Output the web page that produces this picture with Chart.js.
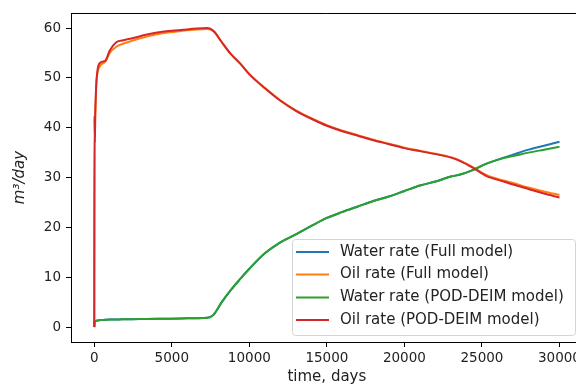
<!DOCTYPE html>
<html>
<head>
<meta charset="utf-8">
<script src="https://cdn.jsdelivr.net/npm/chart.js@4/dist/chart.umd.min.js"></script>
<style>
  html, body { margin: 0; padding: 0; background: #fff; overflow: hidden; }
  #wrap { width: 584px; height: 386px; }
</style>
</head>
<body>
<div id="wrap"><canvas id="rates"></canvas></div>
<script>
// simulation time (days) shared by all four series
const timeDays = [0, 20, 40, 60, 100, 150, 400, 700, 1000, 1400, 1800, 2400,
  3400, 4500, 5600, 6600, 7300, 7700, 8200, 8800, 9400, 10000, 11000, 12000,
  13000, 14000, 15000, 16000, 17000, 18000, 19000, 20000, 21000, 22000, 23000, 23600,
  24400, 25300, 26400, 27000, 28000, 29000, 30000];

const waterFull = [0, 0.8, 1.0, 1.1, 1.2, 1.3, 1.4, 1.45, 1.5, 1.52, 1.55, 1.58,
  1.62, 1.67, 1.72, 1.78, 1.85, 2.5, 4.9, 7.4, 9.6, 11.7, 14.8, 17.0,
  18.6, 20.3, 21.9, 23.1, 24.2, 25.3, 26.2, 27.3, 28.4, 29.2, 30.2, 30.6,
  31.5, 32.8, 34.0, 34.6, 35.6, 36.4, 37.2];

const oilFull = [0, 42, 38, 42, 46, 49.5, 52.5, 53.2, 55, 56.2, 56.8, 57.4,
  58.3, 59.0, 59.4, 59.7, 59.8, 59.3, 57.2, 54.8, 52.9, 50.8, 48.0, 45.5,
  43.5, 41.9, 40.5, 39.4, 38.5, 37.6, 36.8, 36.0, 35.4, 34.8, 34.1, 33.4,
  32.1, 30.5, 29.4, 28.9, 28.0, 27.2, 26.5];

const waterRom = [0, 0.8, 1.0, 1.1, 1.2, 1.3, 1.4, 1.45, 1.5, 1.52, 1.55, 1.58,
  1.62, 1.67, 1.72, 1.78, 1.85, 2.5, 4.9, 7.4, 9.6, 11.7, 14.8, 17.0,
  18.6, 20.3, 21.9, 23.1, 24.2, 25.3, 26.2, 27.3, 28.4, 29.2, 30.2, 30.6,
  31.5, 32.8, 33.9, 34.3, 35.0, 35.6, 36.2];

const oilRom = [0, 42.5, 37, 42, 46.5, 49.8, 53.1, 53.4, 55.5, 57.1, 57.5, 57.9,
  58.7, 59.3, 59.6, 59.9, 60.0, 59.4, 57.3, 54.8, 52.9, 50.7, 47.9, 45.4,
  43.4, 41.8, 40.4, 39.3, 38.4, 37.5, 36.7, 35.9, 35.3, 34.7, 34.0, 33.3,
  32.0, 30.3, 29.2, 28.6, 27.7, 26.8, 26.0];

const seriesLabels = ['Water rate (Full model)', 'Oil rate (Full model)',
  'Water rate (POD-DEIM model)', 'Oil rate (POD-DEIM model)'];
const seriesColors = ['#1f77b4', '#ff7f0e', '#2ca02c', '#d62728'];

const xTicks = [0, 5000, 10000, 15000, 20000, 25000, 30000];
const yTicks = [0, 10, 20, 30, 40, 50, 60];

const FONT = 'DejaVu Sans';
const INK = '#222';

function toPoints(values) {
  return values.map((v, i) => ({ x: timeDays[i], y: v }));
}

const allSeries = [waterFull, oilFull, waterRom, oilRom];
const datasets = allSeries.map((vals, i) => ({
  label: seriesLabels[i],
  data: toPoints(vals),
  borderColor: seriesColors[i],
  borderWidth: 2,
  pointRadius: 0,
  fill: false,
  cubicInterpolationMode: 'monotone',
  order: 4 - i // later series drawn on top
}));

// top/right spines
const frame = {
  id: 'frame',
  afterDatasetsDraw(chart) {
    const { ctx, chartArea: a } = chart;
    ctx.save();
    ctx.strokeStyle = '#000';
    ctx.lineWidth = 1;
    ctx.beginPath();
    ctx.moveTo(a.left, Math.round(a.top) + 0.5);
    ctx.lineTo(a.right, Math.round(a.top) + 0.5);
    ctx.lineTo(a.right, a.bottom);
    ctx.stroke();
    ctx.restore();
  }
};

// legend box inside the plot, lower right
const boxLegend = {
  id: 'boxLegend',
  afterDraw(chart) {
    const { ctx } = chart;
    const x0 = 292, y0 = 239, w = 283, h = 96;
    const rows = [252, 274.5, 297.5, 320];
    ctx.save();
    ctx.fillStyle = 'rgba(255,255,255,0.85)';
    ctx.strokeStyle = '#d4d4d4';
    ctx.lineWidth = 1;
    ctx.beginPath();
    ctx.roundRect(x0 + 0.5, y0 + 0.5, w, h, 3);
    ctx.fill();
    ctx.stroke();
    ctx.font = '15px "' + FONT + '"';
    ctx.textBaseline = 'middle';
    ctx.fillStyle = INK;
    chart.data.datasets.forEach((ds, i) => {
      const y = rows[i];
      ctx.strokeStyle = ds.borderColor;
      ctx.lineWidth = 2;
      ctx.beginPath();
      ctx.moveTo(296, y);
      ctx.lineTo(329, y);
      ctx.stroke();
      ctx.fillText(ds.label, 340, y);
    });
    ctx.restore();
  }
};

new Chart(document.getElementById('rates'), {
  type: 'line',
  data: { datasets },
  plugins: [frame, boxLegend],
  options: {
    responsive: true,
    maintainAspectRatio: false,
    animation: false,
    layout: { padding: { top: 11, right: 1, left: 0, bottom: 0 } },
    plugins: { legend: { display: false }, tooltip: { enabled: false } },
    scales: {
      x: {
        type: 'linear',
        min: -1500,
        max: 31500,
        afterBuildTicks: axis => { axis.ticks = xTicks.map(v => ({ value: v })); },
        afterFit: axis => { axis.height = 44; },
        grid: { drawOnChartArea: false, drawTicks: true, tickLength: 5, tickColor: '#000' },
        border: { display: true, color: '#000', width: 1 },
        ticks: {
          color: INK,
          font: { family: FONT, size: 13.5 },
          padding: 3,
          maxRotation: 0,
          autoSkip: false,
          callback: v => String(v)
        },
        title: {
          display: true,
          text: 'time, days',
          color: INK,
          font: { family: FONT, size: 15 },
          padding: { top: 0, bottom: 0 }
        }
      },
      y: {
        type: 'linear',
        min: -3,
        max: 63,
        afterBuildTicks: axis => { axis.ticks = yTicks.map(v => ({ value: v })); },
        afterFit: axis => { axis.width = 71; },
        grid: { drawOnChartArea: false, drawTicks: true, tickLength: 5, tickColor: '#000' },
        border: { display: true, color: '#000', width: 1 },
        ticks: {
          color: INK,
          font: { family: FONT, size: 13.5 },
          padding: 5,
          callback: v => String(v)
        },
        title: {
          display: true,
          text: 'm³/day',
          color: INK,
          font: { family: FONT, size: 15, style: 'italic' },
          padding: { top: 11, bottom: 0 }
        }
      }
    }
  }
});
</script>
</body>
</html>
